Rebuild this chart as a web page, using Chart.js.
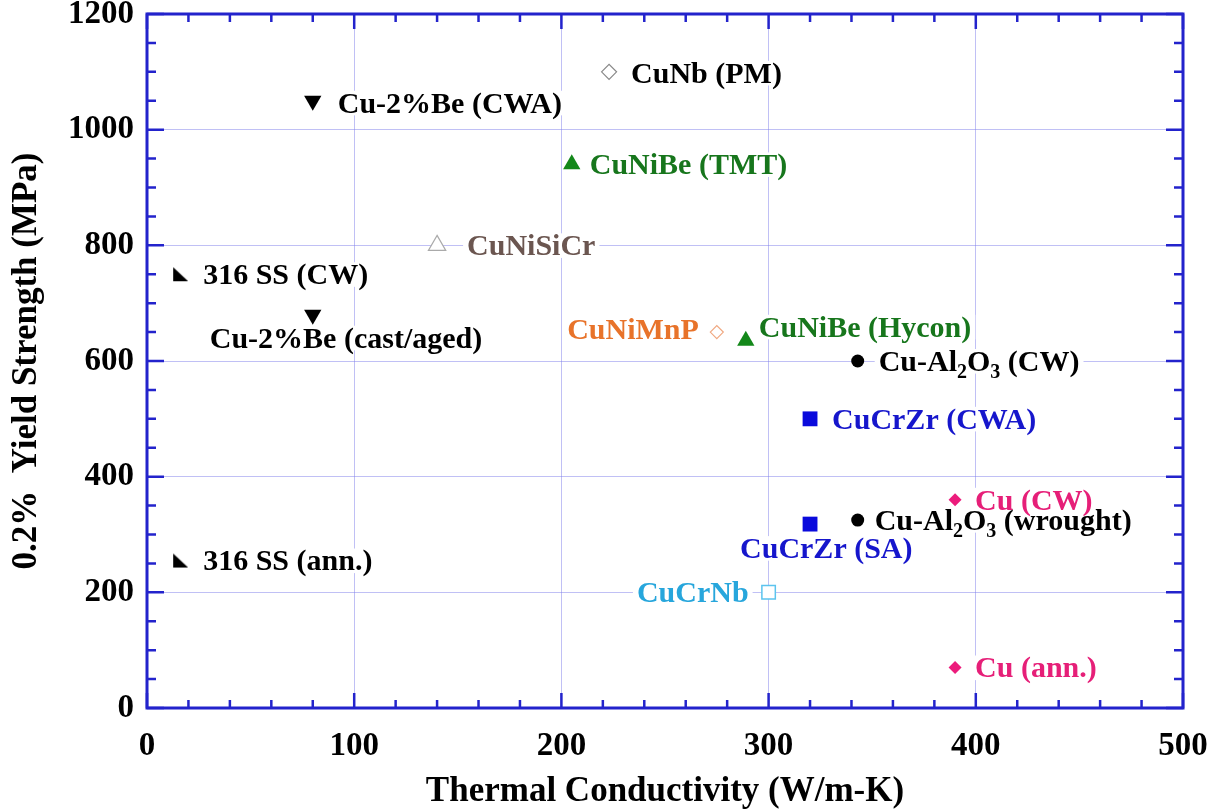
<!DOCTYPE html>
<html>
<head>
<meta charset="utf-8">
<script src="https://cdn.jsdelivr.net/npm/chart.js@4.4.1/dist/chart.umd.min.js"></script>
<style>
html, body { margin: 0; padding: 0; background: #fff; }
#wrap { width: 1213px; height: 810px; position: relative; }
</style>
</head>
<body>
<div id="wrap"><canvas id="chart"></canvas></div>
<script>
// 데이터
const materials = [
    'Cu-2%Be (CWA)', 'CuNb (PM)', 'CuNiBe (TMT)', 'CuNiSiCr',
    '316 SS (CW)', 'Cu-2%Be (cast/aged)', '316 SS (ann.)', 'CuNiMnP',
    'CuNiBe (Hycon)', 'Cu-Al_2O_3 (CW)', 'CuCrZr (CWA)', 'Cu (CW)',
    'Cu-Al_2O_3 (wrought)', 'CuCrZr (SA)', 'CuCrNb', 'Cu (ann.)'
];
const conductivity = [80, 223, 205, 140, 16, 80, 16, 275, 289, 343, 320, 390, 343, 320, 300, 390];
const yieldStrength = [1050, 1100, 940, 800, 750, 680, 255, 650, 635, 600, 500, 360, 325, 318, 200, 70];
const xTickLabels = [0, 100, 200, 300, 400, 500];
const yTickLabels = [0, 200, 400, 600, 800, 1000, 1200];

// 스타일
const FONT = '"Liberation Serif", "Times New Roman", serif';
const axisBlue = '#2323cc';
const gridColor = 'rgba(130, 130, 235, 0.5)';

const BLACK = '#000000', GREEN = '#17761c', BROWN = '#6b5650', ORANGE = '#e8732a',
      BLUE = '#1616cc', PINK = '#e61f78', CYAN = '#27a6dc';

const labelColor = [BLACK, BLACK, GREEN, BROWN, BLACK, BLACK, BLACK, ORANGE,
    GREEN, BLACK, BLUE, PINK, BLACK, BLUE, CYAN, PINK];
// [dx, dy, 정렬]
const labelPlace = [
    [25, 2, 'left'], [22, 1, 'left'], [18, 0, 'left'], [30, 0, 'left'],
    [23, 0, 'left'], [-103, 23, 'left'], [23, 0, 'left'], [-18, -3, 'right'],
    [13, -14, 'left'], [21, 0, 'left'], [22, 0, 'left'], [20, 0, 'left'],
    [17, 0, 'left'], [-70, 24, 'left'], [-20, 0, 'right'], [20, 0, 'left']
];

// 316 SS용 직각삼각형 마커
function makeCornerTriangle() {
    const c = document.createElement('canvas');
    c.width = 16; c.height = 16;
    const g = c.getContext('2d');
    g.fillStyle = '#000';
    g.beginPath();
    g.moveTo(1, 1);
    g.lineTo(1, 15);
    g.lineTo(16, 15);
    g.closePath();
    g.fill();
    return c;
}
const cornerTri = makeCornerTriangle();

const markerStyle = ['triangle', 'rectRot', 'triangle', 'triangle', cornerTri, 'triangle', cornerTri, 'rectRot',
    'triangle', 'circle', 'rect', 'rectRot', 'circle', 'rect', 'rect', 'rectRot'];
const markerRotation = [180, 0, 0, 0, 0, 180, 0, 0, 0, 0, 0, 0, 0, 0, 0, 0];
const markerRadius = [10, 7.5, 10, 10, 8, 10, 8, 6.5, 10, 6.5, 10.5, 6.5, 6.5, 10.5, 9.5, 6.5];
const markerFill = ['#000', '#fff', '#13881a', '#fff', '#000', '#000', '#000', '#fff',
    '#13881a', '#000', '#0a0adc', '#ec1c7c', '#000', '#0a0adc', '#fff', '#ec1c7c'];
const markerLine = ['#000', '#888', '#13881a', '#aaa', '#000', '#000', '#000', '#f0a880',
    '#13881a', '#000', '#0a0adc', '#ec1c7c', '#000', '#0a0adc', '#5cc4ee', '#ec1c7c'];
const markerLineWidth = [0, 1.2, 0, 1.2, 0, 0, 0, 1.2, 0, 0, 0, 0, 0, 0, 1.5, 0];

const LABEL_SIZE = 30;
const SUB_SIZE = 20;

// 아래첨자(_n) 분리 + 너비 계산
function layoutLabel(ctx, text, x, align) {
    const parts = [];
    text.split(/(_\d)/).forEach(function(p) {
        if (!p) return;
        if (p[0] === '_') parts.push({ t: p.slice(1), sub: true });
        else parts.push({ t: p, sub: false });
    });
    let total = 0;
    parts.forEach(function(p) {
        ctx.font = 'bold ' + (p.sub ? SUB_SIZE : LABEL_SIZE) + 'px ' + FONT;
        p.w = ctx.measureText(p.t).width;
        total += p.w;
    });
    return { parts: parts, total: total, sx: align === 'right' ? x - total : x };
}

const labelPlugin = {
    id: 'pointLabels',
    beforeDatasetsDraw(chart) {
        const ctx = chart.ctx;
        const meta = chart.getDatasetMeta(0);
        ctx.save();
        const items = meta.data.map(function(pt, i) {
            const place = labelPlace[i];
            const lay = layoutLabel(ctx, materials[i], pt.x + place[0], place[2]);
            lay.y = pt.y + place[1];
            lay.color = labelColor[i];
            return lay;
        });
        // 흰 배경 먼저
        ctx.fillStyle = '#fff';
        items.forEach(function(it) {
            ctx.fillRect(it.sx - 4, it.y - LABEL_SIZE * 0.4, it.total + 8, LABEL_SIZE * 0.82);
        });
        ctx.textBaseline = 'alphabetic';
        ctx.textAlign = 'left';
        items.forEach(function(it) {
            const base = it.y + LABEL_SIZE * 0.33;
            let sx = it.sx;
            ctx.fillStyle = it.color;
            it.parts.forEach(function(p) {
                ctx.font = 'bold ' + (p.sub ? SUB_SIZE : LABEL_SIZE) + 'px ' + FONT;
                ctx.fillText(p.t, sx, p.sub ? base + 7 : base);
                sx += p.w;
            });
        });
        ctx.restore();
    }
};

// 테두리와 안쪽 눈금
const framePlugin = {
    id: 'frame',
    afterDatasetsDraw(chart) {
        const ctx = chart.ctx;
        const a = chart.chartArea;
        const xs = chart.scales.x, ys = chart.scales.y;
        ctx.save();
        ctx.strokeStyle = axisBlue;
        ctx.lineWidth = 2.5;
        ctx.beginPath();
        xs.ticks.forEach(function(t) {
            const px = xs.getPixelForValue(t.value);
            const len = xTickLabels.includes(t.value) ? 15 : 8;
            ctx.moveTo(px, a.bottom); ctx.lineTo(px, a.bottom - len);
            ctx.moveTo(px, a.top); ctx.lineTo(px, a.top + len);
        });
        ys.ticks.forEach(function(t) {
            const py = ys.getPixelForValue(t.value);
            const len = yTickLabels.includes(t.value) ? 17 : 9;
            ctx.moveTo(a.left, py); ctx.lineTo(a.left + len, py);
            ctx.moveTo(a.right, py); ctx.lineTo(a.right - len, py);
        });
        ctx.stroke();
        ctx.lineWidth = 3;
        ctx.strokeRect(a.left, a.top, a.right - a.left, a.bottom - a.top);
        ctx.restore();
    }
};

const points = conductivity.map(function(x, i) { return { x: x, y: yieldStrength[i] }; });

new Chart(document.getElementById('chart'), {
    type: 'scatter',
    data: {
        datasets: [{
            data: points,
            pointStyle: markerStyle,
            rotation: markerRotation,
            pointRadius: markerRadius,
            backgroundColor: markerFill,
            borderColor: markerLine,
            borderWidth: markerLineWidth
        }]
    },
    options: {
        responsive: true,
        maintainAspectRatio: false,
        animation: false,
        events: [],
        layout: { padding: { left: 0, right: 30, top: 14, bottom: 0 } },
        plugins: {
            legend: { display: false },
            tooltip: { enabled: false }
        },
        scales: {
            x: {
                type: 'linear',
                min: 0,
                max: 500,
                border: { display: false },
                grid: {
                    drawTicks: false,
                    lineWidth: 1,
                    color: function(c) { return xTickLabels.includes(c.tick.value) ? gridColor : 'transparent'; }
                },
                ticks: {
                    stepSize: 20,
                    autoSkip: false,
                    maxRotation: 0,
                    padding: 19,
                    color: '#000',
                    font: { family: FONT, size: 33, weight: 'bold' },
                    callback: function(v) { return xTickLabels.includes(v) ? String(v) : ''; }
                },
                title: {
                    display: true,
                    text: 'Thermal Conductivity (W/m-K)',
                    color: '#000',
                    font: { family: FONT, size: 35, weight: 'bold' },
                    padding: { top: 0, bottom: -3 }
                },
                afterFit: function(s) { s.height = 102; s.paddingLeft = 0; s.paddingRight = 0; }
            },
            y: {
                type: 'linear',
                min: 0,
                max: 1200,
                border: { display: false },
                grid: {
                    drawTicks: false,
                    lineWidth: 1,
                    color: function(c) { return yTickLabels.includes(c.tick.value) ? gridColor : 'transparent'; }
                },
                ticks: {
                    stepSize: 50,
                    autoSkip: false,
                    padding: 13,
                    color: '#000',
                    font: { family: FONT, size: 33, weight: 'bold' },
                    callback: function(v) { return yTickLabels.includes(v) ? String(v) : ''; }
                },
                title: {
                    display: true,
                    text: '0.2%  Yield Strength (MPa)',
                    color: '#000',
                    font: { family: FONT, size: 35, weight: 'bold' },
                    padding: { top: 6, bottom: 0 }
                },
                afterFit: function(s) { s.width = 147; s.paddingTop = 0; s.paddingBottom = 0; }
            }
        }
    },
    plugins: [labelPlugin, framePlugin]
});
</script>
</body>
</html>
